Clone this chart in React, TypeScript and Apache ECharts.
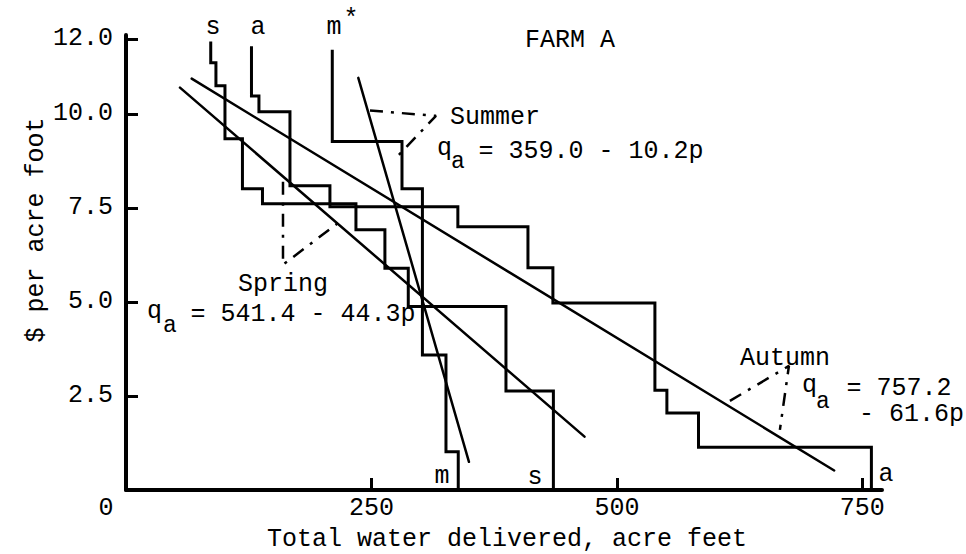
import React, { useEffect, useRef } from "react";
import * as echarts from "echarts";

const FONT = '"Liberation Mono", "DejaVu Sans Mono", monospace';
const FS = 25;

// Step demand schedules: quantity (acre feet) at each step, price ($/acre foot) levels
const springQ = [86.3, 91.6, 100.8, 118.6, 139, 234.2, 263.7, 287.5, 387, 435.3];
const springP = [11.93, 11.36, 10.75, 9.34, 8.01, 7.61, 6.92, 5.9, 4.88, 2.63, 0];

const summerQ = [210.1, 281.1, 301.9, 325.9, 338.4];
const summerP = [11.71, 9.27, 8.01, 3.59, 1.02, 0];

const autumnQ = [127.8, 135.4, 167, 207.7, 338, 409.4, 434.8, 538.7, 550.9, 583.1, 759.2];
const autumnP = [11.8, 10.48, 10.06, 8.09, 7.53, 7.0, 5.91, 4.97, 2.65, 2.05, 1.14, 0];

// Fitted demand lines (end points)
const springFit = [[55, 10.7], [467, 1.42]];
const summerFit = [[236.6, 10.96], [349.3, 0.75]];
const autumnFit = [[66.9, 10.94], [721.3, 0.52]];

// Dash-dot leaders from labels to fitted lines
const springLeader = [[159.9, 8.2], [159.9, 5.99], [215.9, 7.1]];
const summerLeader = [[248.5, 10.09], [315.7, 9.95], [275, 8.83]];
const autumnLeader = [[615.1, 2.37], [675.2, 3.3], [666, 1.6]];

const xTickValues = [0, 250, 500, 750];
const xTickMarks = [250, 500, 750];
const yTickValues = [2.5, 5.0, 7.5, 10.0, 12.0];

function steps(q: number[], p: number[]) {
  const pts: number[][] = [[q[0], p[0]]];
  for (let i = 0; i < q.length; i++) {
    pts.push([q[i], p[i + 1]]);
    if (i + 1 < q.length) pts.push([q[i + 1], p[i + 1]]);
  }
  return pts;
}

function txt(text: string, x: number, y: number, extra: any = {}) {
  return {
    type: "text",
    x,
    y,
    silent: true,
    rotation: extra.rotation || 0,
    style: {
      text,
      fill: "#000",
      fontFamily: FONT,
      fontSize: extra.fontSize || FS,
      align: extra.align || "left",
      verticalAlign: "middle",
    },
  };
}

export default function App() {
  const ref = useRef<HTMLDivElement>(null);
  useEffect(() => {
    if (!ref.current) return;
    const chart = echarts.init(ref.current, undefined, { renderer: "svg" });
    const stepStyle = { color: "#000", width: 3, join: "miter" };
    const fitStyle = { color: "#000", width: 2.5, cap: "round" };
    const leaderStyle = { color: "#000", width: 2.5, type: [13, 8, 3, 8] };
    const lineSeries = (data: number[][], style: any) => ({
      type: "line",
      data,
      symbol: "none",
      showSymbol: false,
      silent: true,
      clip: false,
      lineStyle: style,
    });
    chart.setOption({
      animation: false,
      backgroundColor: "#fff",
      grid: { left: 126, right: 84, top: 35, bottom: 64, containLabel: false, outerBoundsMode: "none" },
      xAxis: {
        type: "value",
        min: 0,
        max: 770,
        splitLine: { show: false },
        axisLine: { show: true, lineStyle: { color: "#000", width: 4 } },
        axisTick: { show: true, inside: true, length: 12, customValues: xTickMarks, lineStyle: { color: "#000", width: 3 } },
        axisLabel: {
          customValues: xTickValues,
          color: "#000",
          fontFamily: FONT,
          fontSize: FS,
          margin: 6,
          formatter: (v: number) => (v === 0 ? "{z|0}" : String(v)),
          rich: { z: { padding: [0, 40, 0, 0], fontFamily: FONT, fontSize: FS, color: "#000" } },
        },
      },
      yAxis: {
        type: "value",
        min: 0,
        max: 12.1,
        splitLine: { show: false },
        axisLine: { show: true, lineStyle: { color: "#000", width: 4 } },
        axisTick: { show: true, inside: true, length: 12, customValues: yTickValues, lineStyle: { color: "#000", width: 3 } },
        axisLabel: {
          customValues: yTickValues,
          color: "#000",
          fontFamily: FONT,
          fontSize: FS,
          margin: 13,
          formatter: (v: number) => v.toFixed(1),
        },
      },
      series: [
        lineSeries(steps(springQ, springP), stepStyle),
        lineSeries(steps(summerQ, summerP), stepStyle),
        lineSeries(steps(autumnQ, autumnP), stepStyle),
        lineSeries(springFit, fitStyle),
        lineSeries(summerFit, fitStyle),
        lineSeries(autumnFit, fitStyle),
        lineSeries(springLeader, leaderStyle),
        lineSeries(summerLeader, leaderStyle),
        lineSeries(autumnLeader, leaderStyle),
      ],
      graphic: [
        txt("FARM A", 570, 40, { align: "center" }),
        txt("s", 213, 27, { align: "center" }),
        txt("a", 258, 27, { align: "center" }),
        txt("m", 334, 27, { align: "center" }),
        txt("*", 351, 19, { align: "center" }),
        txt("Summer", 450, 117),
        txt("q", 437, 148),
        txt("a", 451, 162, { fontSize: 23 }),
        txt(" = 359.0 - 10.2p", 463.5, 151),
        txt("Spring", 238, 284),
        txt("q", 147, 311),
        txt("a", 163, 326, { fontSize: 23 }),
        txt(" = 541.4 - 44.3p", 175.5, 314),
        txt("Autumn", 740, 358),
        txt("q", 802, 385),
        txt("a", 816, 402, { fontSize: 23 }),
        txt(" = 757.2", 831.5, 388),
        txt("- 61.6p", 859, 414),
        txt("m", 442, 476, { align: "center" }),
        txt("s", 535, 477, { align: "center" }),
        txt("a", 886, 474, { align: "center" }),
        txt("Total water delivered, acre feet", 507, 539, { align: "center" }),
        txt("$ per acre foot", 36, 230, { align: "center", rotation: Math.PI / 2 }),
      ],
    });
    return () => chart.dispose();
  }, []);
  return (
    <div
      ref={ref}
      style={{ position: "fixed", left: 0, top: 0, width: 966, height: 554, background: "#fff" }}
    />
  );
}
